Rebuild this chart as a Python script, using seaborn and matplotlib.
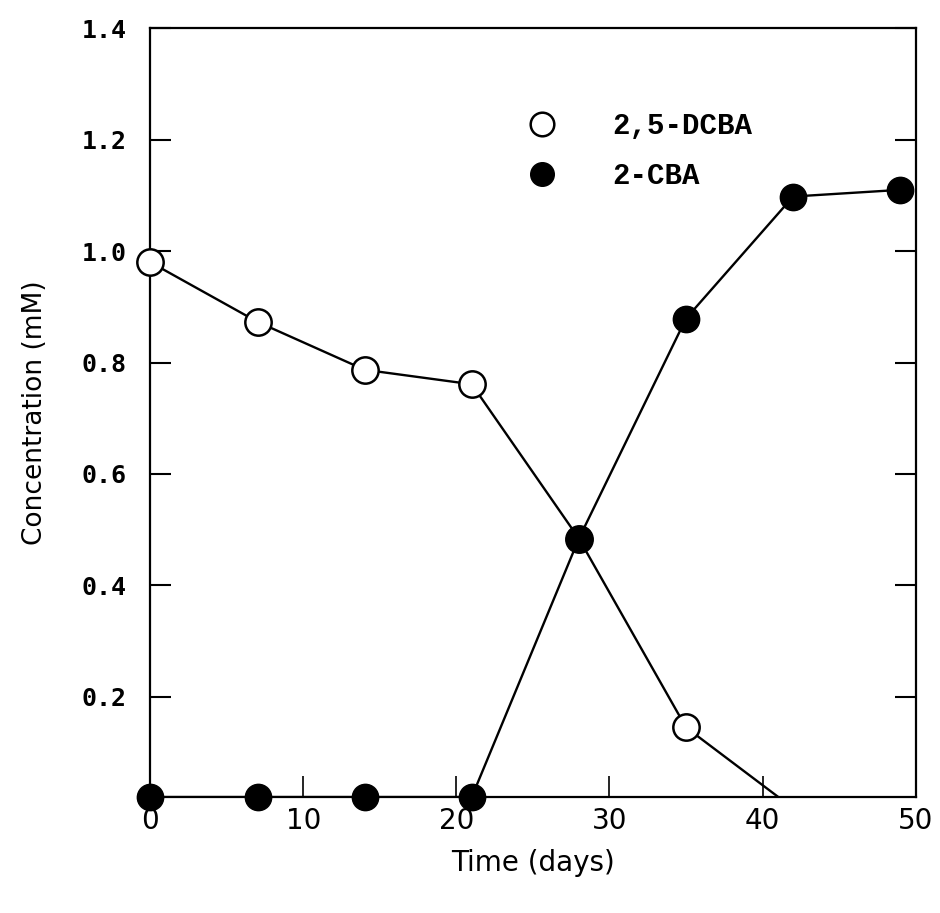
import numpy as np
import pandas as pd
import seaborn as sns
import matplotlib.pyplot as plt
from matplotlib.lines import Line2D

# data
dcba_days = [0, 7, 14, 21, 28, 35, 42]
dcba = [0.98, 0.873, 0.787, 0.761, 0.484, 0.145, 0.0]
cba_days = [0, 7, 14, 21, 28, 35, 42, 49]
cba = [0.02, 0.02, 0.02, 0.02, 0.484, 0.879, 1.098, 1.11]

x_ticks = [0, 10, 20, 30, 40, 50]
y_ticks = [0.2, 0.4, 0.6, 0.8, 1.0, 1.2, 1.4]
y_low, y_high = 0.02, 1.4

sns.set_theme(style="white")
plt.rcParams['font.family'] = ['DejaVu Sans']
plt.rcParams['text.color'] = 'black'
plt.rcParams['axes.labelcolor'] = 'black'

fig = plt.figure(figsize=(9.4, 9.13), dpi=100)
ax = fig.add_axes([0.16, 0.127, 0.814, 0.842])

df1 = pd.DataFrame({'t': dcba_days, 'c': dcba})
df2 = pd.DataFrame({'t': cba_days, 'c': cba})

sns.lineplot(data=df1, x='t', y='c', color='black', lw=1.7, ax=ax, zorder=2)
sns.lineplot(data=df2, x='t', y='c', color='black', lw=1.7, ax=ax, zorder=2)

vis1 = df1[df1.c >= y_low]
vis2 = df2[df2.c >= y_low]
sns.scatterplot(data=vis1, x='t', y='c', s=360, facecolor='white',
                edgecolor='black', linewidth=1.8, ax=ax, zorder=3)
sns.scatterplot(data=vis2, x='t', y='c', s=360, color='black',
                edgecolor='black', linewidth=1.0, ax=ax, zorder=4)
for coll in ax.collections:
    coll.set_clip_on(False)

ax.set_xlim(0, 50)
ax.set_ylim(y_low, y_high)
ax.set_xticks(x_ticks)
ax.set_yticks(y_ticks)
ax.set_xticklabels([str(v) for v in x_ticks],
                   fontsize=20, family=['Liberation Sans Narrow', 'DejaVu Sans'])
ax.set_yticklabels([f'{v:.1f}' for v in y_ticks],
                   fontsize=18, family='DejaVu Sans Mono', fontweight='bold')

ax.tick_params(axis='y', direction='in', length=15, width=1.5,
               left=True, right=True, pad=17, colors='black')
ax.tick_params(axis='x', direction='in', length=15, width=1.2,
               bottom=True, top=False, pad=7, colors='black')

for sp in ax.spines.values():
    sp.set_color('black')
    sp.set_linewidth(1.6)

ax.set_xlabel('Time (days)', fontsize=20, labelpad=10,
              family=['Liberation Sans Narrow', 'DejaVu Sans'])
ax.set_ylabel('Concentration (mM)', fontsize=19, labelpad=24)

handles = [
    Line2D([], [], marker='o', ls='none', markersize=17, markerfacecolor='white',
           markeredgecolor='black', markeredgewidth=1.8),
    Line2D([], [], marker='o', ls='none', markersize=17, markerfacecolor='black',
           markeredgecolor='black'),
]
ax.legend(handles, ['2,5-DCBA', '2-CBA'], loc='upper left',
          bbox_to_anchor=(0.44, 0.925), frameon=False, handletextpad=1.4,
          labelspacing=0.75, labelcolor='black',
          prop={'family': 'Liberation Mono', 'weight': 'bold', 'size': 21})

fig.savefig('out.png', dpi=100)
